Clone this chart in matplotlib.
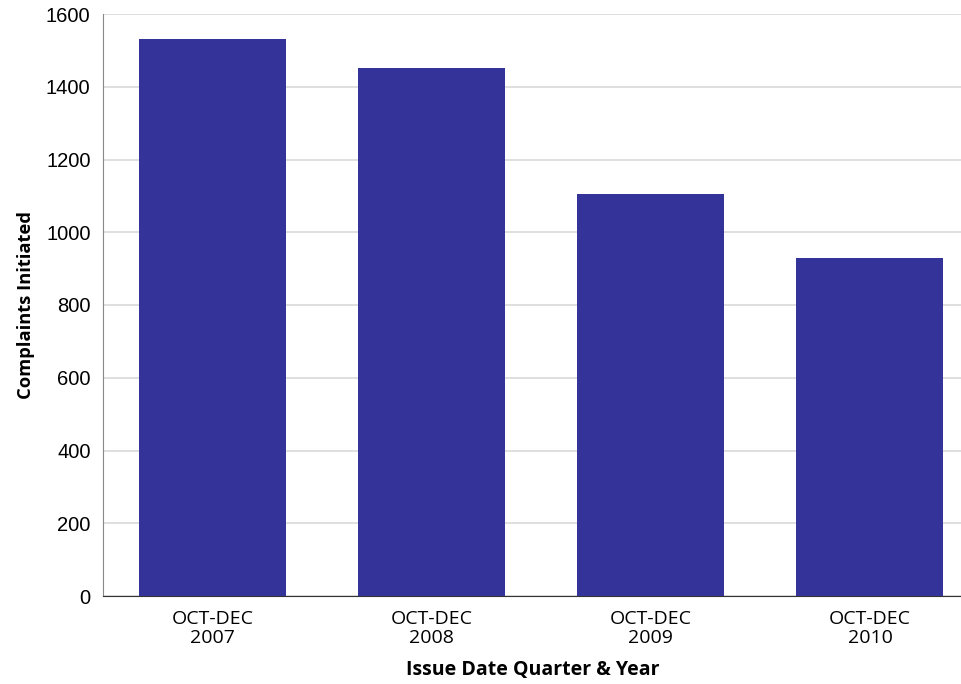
import matplotlib
matplotlib.use("Agg")
import matplotlib.pyplot as plt

categories = ["OCT-DEC\n2007", "OCT-DEC\n2008", "OCT-DEC\n2009", "OCT-DEC\n2010"]
complaints = [1530, 1452, 1105, 929]
yticks = [0, 200, 400, 600, 800, 1000, 1200, 1400, 1600]

fig = plt.figure(figsize=(9.62, 6.84), dpi=100)
ax = fig.add_axes([103/962, 88/684, 1 - 103/962, (596-14)/684])

x = list(range(len(categories)))
ax.bar(x, complaints, width=0.671, color="#333399", zorder=3)
ax.set_xlim(-0.5, 3.42)
ax.set_ylim(0, 1600)
ax.set_yticks(yticks)
ax.set_yticklabels([str(v) for v in yticks], fontfamily="Liberation Sans", fontsize=14.5)
ax.set_xticks(x)
ax.set_xticklabels(categories, fontfamily="Open Sans", fontsize=14, linespacing=1.05)
ax.tick_params(axis="both", length=0)
ax.tick_params(axis="y", pad=9)
ax.tick_params(axis="x", pad=10)
ax.grid(axis="y", color="#d9d9d9", linewidth=1.2, zorder=0)
for s in ["top", "right"]:
    ax.spines[s].set_visible(False)
ax.spines["left"].set_color("#888888")
ax.spines["bottom"].set_color("#333333")
ax.set_ylabel("Complaints Initiated", fontfamily="Open Sans", fontweight="bold", fontsize=13.2, labelpad=8)
ax.set_xlabel("Issue Date Quarter & Year", fontfamily="Open Sans", fontweight="bold", fontsize=14, labelpad=10)

fig.savefig("out.png", dpi=100)
